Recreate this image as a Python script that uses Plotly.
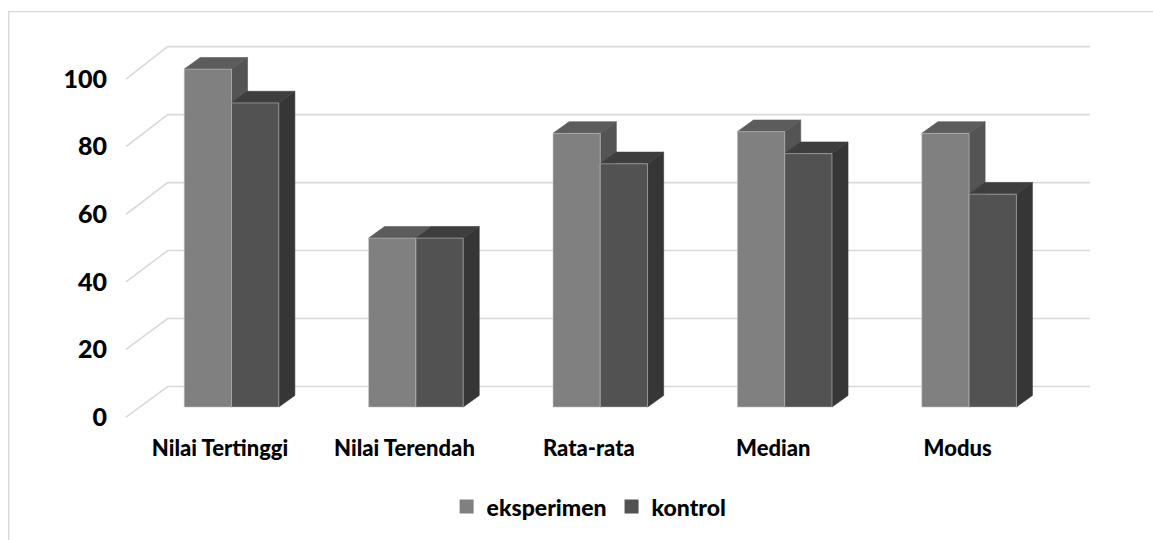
import plotly.graph_objects as go

# ---- data ----
categories = ["Nilai Tertinggi", "Nilai Terendah", "Rata-rata", "Median", "Modus"]
eksperimen = [100, 50, 81, 81.5, 81]
kontrol = [90, 50, 72, 75, 63]
y_ticks = [0, 20, 40, 60, 80, 100]

# ---- styling / pseudo-3D projection constants ----
FONT = "Lato, 'Open Sans', sans-serif"
WEIGHT = 900
BAR_W = 0.2565          # width of one column (category units)
DEPTH_X = 0.087         # column depth, horizontal shift (category units)
DEPTH_Y = 3.44          # column depth, vertical shift (value units)
WALL_OFF, WALL_SCALE = 6.09, 1.0056   # back wall position of a value
FLOOR_FRONT = -2.94     # front edge of the floor relative to a value
X_FRONT_LEFT, X_BACK_LEFT, X_RIGHT = -0.572, -0.346, 4.656
LABEL_SHIFT = 0.062     # category labels sit on the front floor edge

COLORS = {
    "eksperimen": {"front": "#808080", "top": "#5c5c5c", "side": "#545454"},
    "kontrol": {"front": "#525252", "top": "#3e3e3e", "side": "#363636"},
}
GRID = "#d9d9d9"


def polys(shapes):
    xs, ys = [], []
    for pts in shapes:
        for px, py in pts:
            xs.append(px)
            ys.append(py)
        xs.append(pts[0][0])
        ys.append(pts[0][1])
        xs.append(None)
        ys.append(None)
    return xs, ys


fig = go.Figure()

# gridlines: front floor edge -> back wall -> right end
gx, gy = [], []
for v in y_ticks:
    wall = v * WALL_SCALE + WALL_OFF
    gx += [X_FRONT_LEFT, X_BACK_LEFT, X_RIGHT, None]
    gy += [v + FLOOR_FRONT, wall, wall, None]
fig.add_trace(go.Scatter(x=gx, y=gy, mode="lines", line=dict(color=GRID, width=1.6),
                         hoverinfo="skip", showlegend=False))

# columns: side, top, front faces for each series (left series first)
for s, (name, vals) in enumerate([("eksperimen", eksperimen), ("kontrol", kontrol)]):
    fronts, tops, sides = [], [], []
    for i, v in enumerate(vals):
        x0 = i + (s - 1) * BAR_W
        x1 = x0 + BAR_W
        fronts.append([(x0, 0), (x1, 0), (x1, v), (x0, v)])
        tops.append([(x0, v), (x1, v), (x1 + DEPTH_X, v + DEPTH_Y), (x0 + DEPTH_X, v + DEPTH_Y)])
        sides.append([(x1, 0), (x1 + DEPTH_X, DEPTH_Y), (x1 + DEPTH_X, v + DEPTH_Y), (x1, v)])
    c = COLORS[name]
    for face, shapes, edge in [("side", sides, c["side"]), ("top", tops, c["top"]),
                               ("front", fronts, "rgba(200,200,200,0.55)")]:
        px, py = polys(shapes)
        fig.add_trace(go.Scatter(x=px, y=py, mode="lines", fill="toself",
                                 fillcolor=c[face], line=dict(color=edge, width=1 if face == "front" else 0.6),
                                 hoverinfo="skip", showlegend=False))

# legend entries
for name in ["eksperimen", "kontrol"]:
    fig.add_trace(go.Scatter(x=[None], y=[None], mode="markers", name=name,
                             marker=dict(symbol="square", size=14, color=COLORS[name]["front"])))

L, R, T, B = 108, 53, 30, 110
fig.update_layout(
    width=1153, height=540,
    margin=dict(l=L, r=R, t=T, b=B),
    paper_bgcolor="white", plot_bgcolor="white",
    font=dict(family=FONT, size=22, color="#000000", weight=WEIGHT),
    xaxis=dict(range=[-0.6698, 4.710], showgrid=False, zeroline=False, showline=False,
               tickmode="array", tickvals=[i - LABEL_SHIFT for i in range(len(categories))],
               ticktext=categories, ticks="", ticklabelstandoff=5,
               tickfont=dict(family=FONT, size=22, color="#000", weight=WEIGHT)),
    yaxis=dict(range=[-6.18, 111.57], showgrid=False, zeroline=False, showline=False,
               tickmode="array", tickvals=[v + FLOOR_FRONT for v in y_ticks],
               ticktext=[str(v) for v in y_ticks], ticks="",
               tickfont=dict(family=FONT, size=25, color="#000", weight=WEIGHT)),
    legend=dict(orientation="h", x=0.485, xanchor="center", y=-0.1975, yanchor="middle",
                font=dict(family=FONT, size=23, color="#000", weight=WEIGHT), itemwidth=30,
                bgcolor="rgba(0,0,0,0)"),
    shapes=[dict(type="rect", xref="paper", yref="paper",
                 x0=(8.7 - L) / 992, x1=(1165 - L) / 992,
                 y0=(430 - 550) / 400, y1=(430 - 11.5) / 400,
                 line=dict(color=GRID, width=1.4), fillcolor="rgba(0,0,0,0)", layer="below")],
)

fig.write_html("out.html")
